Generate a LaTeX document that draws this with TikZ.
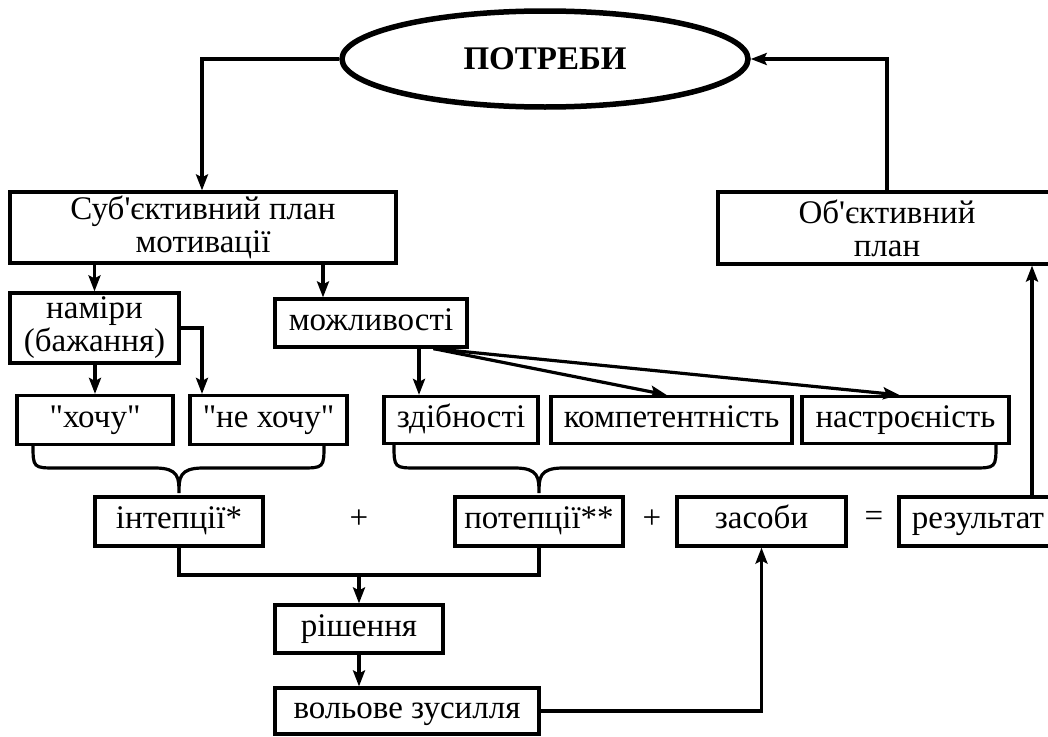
\documentclass[tikz,border=0pt]{standalone}
\usepackage{fontspec}
\newfontfamily\tf{Liberation Serif}
\usetikzlibrary{arrows.meta,shapes.geometric,calc}
\begin{document}
\begin{tikzpicture}[x=1pt,y=-1pt,
  txt/.style={font=\tf\fontsize{33}{33}\selectfont},
  box/.style={txt,draw,line width=3.2pt,inner sep=0pt,align=center},
  sbox/.style={box,text height=22pt,text depth=8pt},
  conn/.style={line width=3.2pt},
  arr/.style={conn,-{Stealth[length=16pt,width=12pt,inset=3pt]}},
  brace/.style={line width=3.2pt}]
\useasboundingbox (0,0) rectangle (1048,736);
\clip (0,0) rectangle (1048,736);
% nodes
\node[ellipse,draw,line width=5.5pt,minimum width=406pt,minimum height=96pt,inner sep=0pt,
  font=\tf\bfseries\fontsize{33}{33}\selectfont] (need) at (545,59) {ПОТРЕБИ};
\node[box,minimum width=386pt,minimum height=71pt] (sub) at (203,227.5) {Суб'єктивний план\\мотивації};
\node[box,minimum width=338pt,minimum height=72pt] (obj) at (887,228) {Об'єктивний\\план};
\node[box,minimum width=169pt,minimum height=70pt] (nam) at (94.5,328) {наміри\\(бажання)};
\node[sbox,minimum width=192pt,minimum height=48pt] (mozh) at (371,323) {можливості};
\node[sbox,minimum width=156pt,minimum height=49pt] (kh) at (95,420) {"хочу"};
\node[sbox,minimum width=157pt,minimum height=49pt] (nkh) at (268.5,420) {"не хочу"};
\node[sbox,minimum width=154pt,minimum height=47pt] (zd) at (461,420) {здібності};
\node[sbox,minimum width=241pt,minimum height=47pt] (komp) at (671.5,420) {компетентність};
\node[sbox,minimum width=207pt,minimum height=47pt] (nast) at (905.5,420) {настроєність};
\node[sbox,minimum width=168pt,minimum height=49pt] (int) at (179,521.5) {інтепції*};
\node[sbox,minimum width=168pt,minimum height=49pt] (pot) at (539,521.5) {потепції**};
\node[sbox,minimum width=169pt,minimum height=49pt] (zas) at (761.5,521.5) {засоби};
\node[sbox,minimum width=158pt,minimum height=49pt] (res) at (978,521.5) {результат};
\node[sbox,minimum width=168pt,minimum height=48pt] (rish) at (359,629) {рішення};
\node[sbox,minimum width=264pt,minimum height=46pt] (vol) at (407,711) {вольове зусилля};
\node[txt] (p1) at (359,519) {+};
\node[txt] (p2) at (652,519) {+};
\node[txt] (eq) at (874,519) {=};
% helper coordinates
\coordinate (lx) at (202,0);
\coordinate (rx) at (1032,0);
\coordinate (mx) at (323,0);
\coordinate (zx) at (419,0);
\coordinate (jy) at (0,575);
% connectors
\draw[arr] (need.west) -| (sub.north -| lx);
\draw[arr] (obj.north) |- (need.east);
\draw[arr] (sub.south -| nam.north) -- (nam.north);
\draw[arr] (sub.south -| mx) -- (mozh.north -| mx);
\draw[arr] (nam.south -| kh.north) -- (kh.north);
\draw[arr] (nam.east) -| (nkh.north -| lx);
\draw[arr] (mozh.south -| zx) -- (zd.north -| zx);
\draw[arr] ($(mozh.south west)!0.82!(mozh.south east)$) -- ($(komp.north west)!0.48!(komp.north east)$);
\draw[arr] ($(mozh.south west)!0.82!(mozh.south east)$) -- ($(nast.north west)!0.47!(nast.north east)$);
\draw[conn] (int.south) -- (int.south |- jy) -- (pot.south |- jy) -- (pot.south);
\draw[arr] (rish.north |- jy) -- (rish.north);
\draw[arr] (rish.south) -- (rish.south |- vol.north);
\draw[arr] (vol.east) -| (zas.south);
\draw[arr] (res.north -| rx) -- (obj.south -| rx);
% braces
\draw[brace] (33,444) .. controls (33,468) .. (57,468) -- (155,468)
  .. controls (179,468) and (179,478) .. (179,493)
  .. controls (179,478) and (179,468) .. (203,468) -- (300,468)
  .. controls (324,468) .. (324,444);
\draw[brace] (394,444) .. controls (394,468) .. (418,468) -- (515,468)
  .. controls (539,468) and (539,478) .. (539,493)
  .. controls (539,478) and (539,468) .. (563,468) -- (972,468)
  .. controls (996,468) .. (996,444);
\end{tikzpicture}
\end{document}
